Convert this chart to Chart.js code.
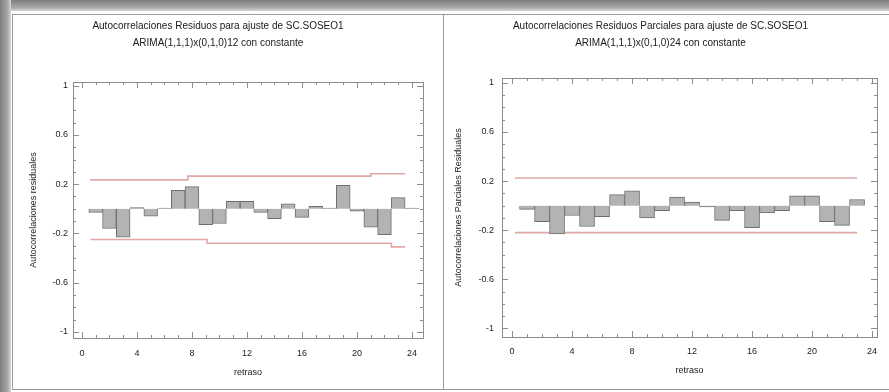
<!DOCTYPE html>
<html>
<head>
<meta charset="utf-8">
<script src="https://cdn.jsdelivr.net/npm/chart.js@4"></script>
<style>
  body { margin: 0; background: #fff; width: 889px; height: 392px; position: relative; overflow: hidden; }
  .topbar { position: absolute; left: 0; top: 0; width: 889px; height: 11px; background: linear-gradient(to bottom, #7e7e7e, #a9a9a9 70%, #d6d6d6); }
  .leftbar { position: absolute; left: 0; top: 0; width: 11px; height: 392px; background: linear-gradient(to right, #7e7e7e, #a9a9a9 70%, #d6d6d6); }
  .panel { position: absolute; top: 14px; height: 376px; border: 1px solid #9a9a9a; box-sizing: border-box; background: #fff; }
  #p1 { left: 12px; width: 432px; }
  #p2 { left: 444px; width: 446px; border-left: none; }
  .panel div { position: absolute; left: 0; top: 0; right: 0; bottom: 0; }
</style>
</head>
<body>
<div class="topbar"></div>
<div class="leftbar"></div>
<div class="panel" id="p1"><div><canvas id="acf"></canvas></div></div>
<div class="panel" id="p2"><div><canvas id="pacf"></canvas></div></div>
<script>
// data
const lags = [1, 2, 3, 4, 5, 6, 7, 8, 9, 10, 11, 12, 13, 14, 15, 16, 17, 18, 19, 20, 21, 22, 23, 24]
const acfValues = [-0.03, -0.16, -0.23, 0.01, -0.06, 0.005, 0.15, 0.18, -0.13, -0.12, 0.06, 0.06, -0.03, -0.08, 0.04, -0.07, 0.02, 0.005, 0.19, -0.02, -0.15, -0.21, 0.09, 0.005]
const pacfValues = [-0.03, -0.13, -0.23, -0.08, -0.17, -0.09, 0.09, 0.12, -0.1, -0.04, 0.07, 0.03, -0.01, -0.12, -0.04, -0.18, -0.06, -0.04, 0.08, 0.08, -0.13, -0.16, 0.05, 0.0]

// confidence limits (stepped)
const acfLimitLags = [0.6, 7.7, 21, 23.5]
const acfUpper = [0.235, 0.265, 0.285, 0.285]
const acfLowerLags = [0.6, 9.1, 22.5, 23.5]
const acfLower = [-0.25, -0.28, -0.31, -0.31]
const pacfLimitLags = [0.2, 23]
const pacfUpper = [0.225, 0.225]
const pacfLower = [-0.22, -0.22]

const yTickLabels = [1, 0.6, 0.2, -0.2, -0.6, -1]
const xTickLabels = [0, 4, 8, 12, 16, 20, 24]

const acfTitle = ["Autocorrelaciones Residuos para ajuste de SC.SOSEO1", "ARIMA(1,1,1)x(0,1,0)12 con constante"]
const pacfTitle = ["Autocorrelaciones Residuos Parciales para ajuste de SC.SOSEO1", "ARIMA(1,1,1)x(0,1,0)24 con constante"]

Chart.defaults.font.family = "'Liberation Sans', Arial, sans-serif"
Chart.defaults.font.size = 9
Chart.defaults.color = "#222"

// plot frame + inward ticks like the original
const framePlugin = {
    id: "frame",
    afterDraw(chart){
        const {ctx, chartArea: a, scales: {x, y}} = chart
        ctx.save()
        ctx.strokeStyle = "#8c8c8c"
        ctx.lineWidth = 1
        ctx.strokeRect(Math.round(a.left) + 0.5, Math.round(a.top) + 0.5, Math.round(a.width), Math.round(a.height))
        ctx.beginPath()
        for(let i = -10; i <= 10; i++){
            let py = Math.round(y.getPixelForValue(i / 10)) + 0.5
            let len = (i + 10) % 4 == 0 ? 6 : 3
            ctx.moveTo(a.left, py); ctx.lineTo(a.left + len, py)
            ctx.moveTo(a.right, py); ctx.lineTo(a.right - len, py)
        }
        for(let i = 0; i <= 24; i++){
            let px = Math.round(x.getPixelForValue(i)) + 0.5
            let len = i % 4 == 0 ? 6 : 3
            ctx.moveTo(px, a.bottom); ctx.lineTo(px, a.bottom - len)
            ctx.moveTo(px, a.top); ctx.lineTo(px, a.top + len)
        }
        ctx.stroke()
        ctx.restore()
    }
}

function makeChart(id, title, values, lim, yTitle, geo){
    let datasets = [{
        type: "bar",
        data: lags.map((l, i) => ({x: l, y: values[i]})),
        backgroundColor: "#b3b3b3",
        borderColor: "#6e6e6e",
        borderWidth: 1,
        barPercentage: 1,
        categoryPercentage: 1
    }]
    for(let l of lim){
        datasets.push({
            type: "line",
            data: l.lags.map((v, i) => ({x: v, y: l.vals[i]})),
            borderColor: "rgba(205,110,110,0.6)",
            borderWidth: 1.6,
            pointRadius: 0,
            stepped: "before",
            fill: false
        })
    }
    return new Chart(document.getElementById(id), {
        data: {datasets: datasets},
        plugins: [framePlugin],
        options: {
            responsive: true,
            maintainAspectRatio: false,
            animation: false,
            layout: {padding: {left: 0, right: geo.right, top: 0, bottom: 0}},
            plugins: {
                legend: {display: false},
                tooltip: {enabled: false},
                title: {
                    display: true,
                    text: title,
                    color: "#1a1a1a",
                    font: {size: 10, weight: "normal", lineHeight: 1.7},
                    padding: {top: 3, bottom: geo.titleBottom}
                }
            },
            scales: {
                x: {
                    type: "linear",
                    offset: false,
                    min: geo.xmin,
                    max: geo.xmax,
                    afterBuildTicks: s => { s.ticks = xTickLabels.map(v => ({value: v})) },
                    afterFit: s => { s.height = geo.xh },
                    grid: {display: false, drawTicks: false, offset: false},
                    border: {display: false},
                    ticks: {padding: geo.xpad, maxRotation: 0, autoSkip: false},
                    title: {display: true, text: "retraso", font: {size: 9}, padding: {top: 0, bottom: geo.xtpad}}
                },
                y: {
                    min: geo.ymin,
                    max: geo.ymax,
                    afterBuildTicks: s => { s.ticks = yTickLabels.map(v => ({value: v})) },
                    afterFit: s => { s.width = geo.yw },
                    grid: {display: false, drawTicks: false},
                    border: {display: false},
                    ticks: {padding: geo.ypad, autoSkip: false, callback: v => String(v)},
                    title: {display: true, text: yTitle, font: {size: 9}, padding: {top: geo.ytpad, bottom: 0}}
                }
            }
        }
    })
}

makeChart("acf", acfTitle, acfValues,
    [{lags: acfLimitLags, vals: acfUpper}, {lags: acfLowerLags, vals: acfLower}],
    "Autocorrelaciones residuales",
    {right: 20, titleBottom: 30, xmin: -0.65, xmax: 24.8, ymin: -1.05, ymax: 1.03, xh: 51, yw: 60, xpad: 10, ypad: 5, xtpad: 11, ytpad: 15})

makeChart("pacf", pacfTitle, pacfValues,
    [{lags: pacfLimitLags, vals: pacfUpper}, {lags: pacfLimitLags, vals: pacfLower}],
    "Autocorrelaciones Parciales Residuales",
    {right: 12, titleBottom: 26, xmin: -0.67, xmax: 24.33, ymin: -1.07, ymax: 1.04, xh: 52, yw: 58, xpad: 9, ypad: 8, xtpad: 13, ytpad: 9})
</script>
</body>
</html>
